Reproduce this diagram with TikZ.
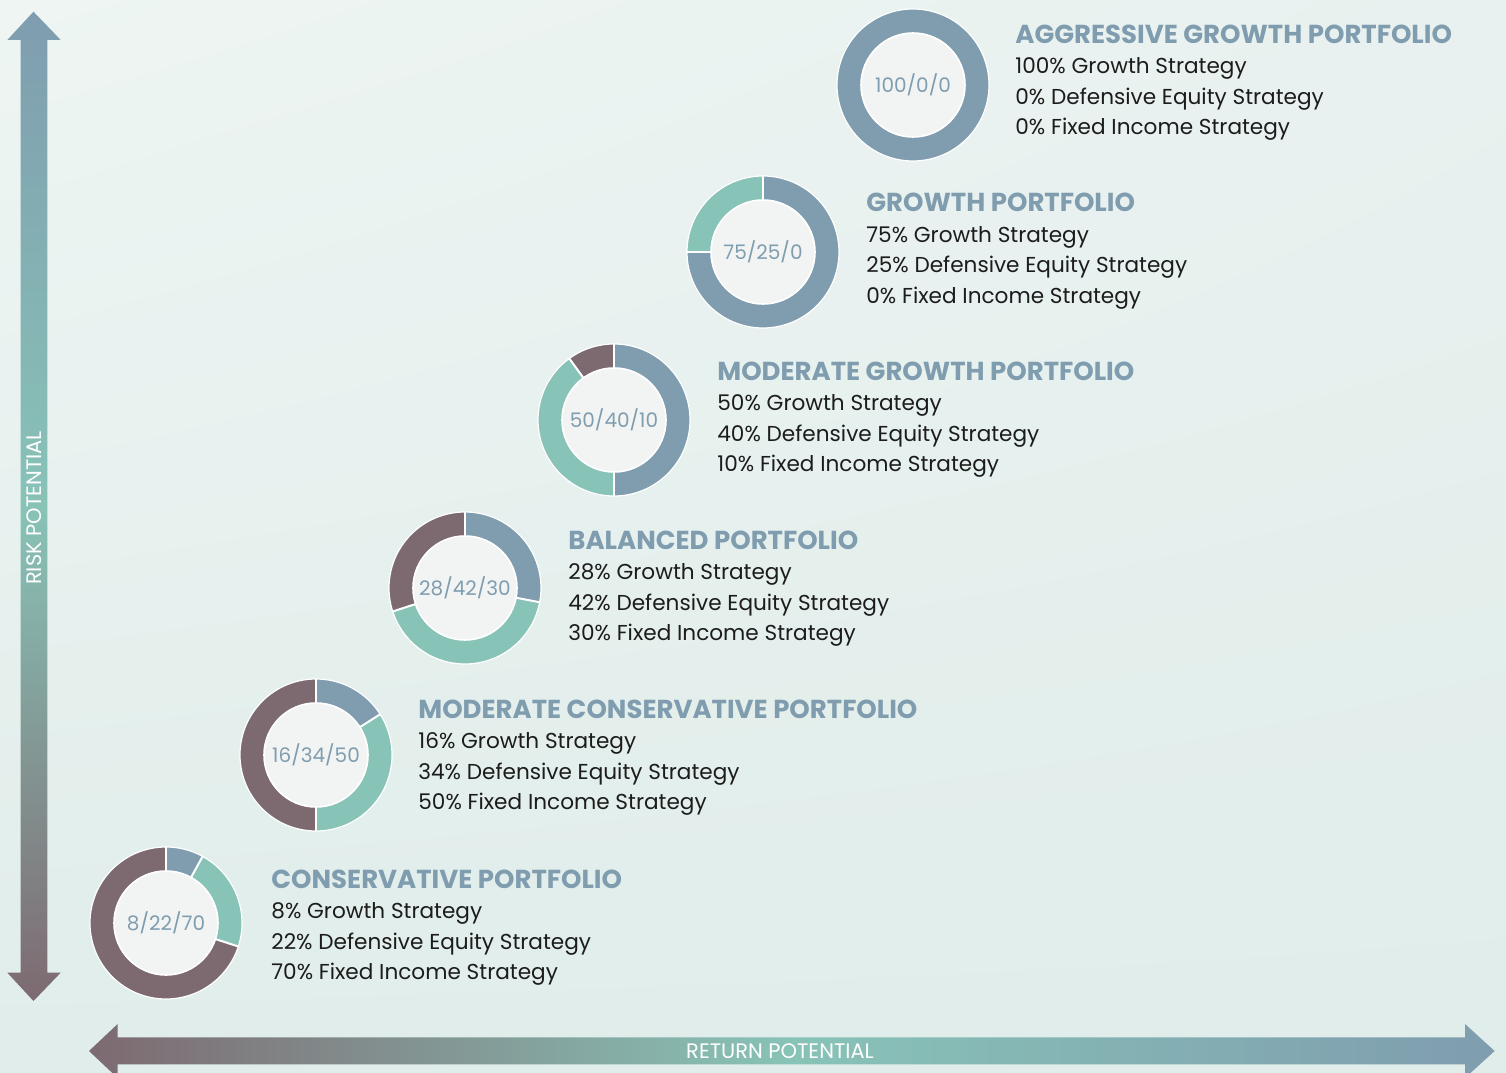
\documentclass[tikz,border=0pt]{standalone}
\usepackage{fontspec}
\setmainfont{Poppins}
\usetikzlibrary{shadings}

\definecolor{riskblue}{HTML}{7F9DAF}
\definecolor{riskteal}{HTML}{88C3B7}
\definecolor{riskmauve}{HTML}{7D6A71}
\definecolor{innerfill}{HTML}{F2F4F3}
\definecolor{bodytext}{HTML}{1C1C1C}
\definecolor{bgtopleft}{HTML}{EEF5F3}
\definecolor{bgtopright}{HTML}{E8F1EF}
\definecolor{bgbottom}{HTML}{E0EDEA}

\tikzset{
  pctlabel/.style={font=\fontsize{10}{12}\selectfont, text=riskblue, inner sep=0pt},
  titlelabel/.style={font=\fontsize{13}{15}\selectfont\bfseries, text=riskblue, anchor=base west, inner sep=0pt},
  linelabel/.style={font=\fontsize{10.8}{12}\selectfont, text=bodytext, anchor=base west, inner sep=0pt},
  axislabel/.style={font=\fontsize{10.5}{12}\selectfont, text=white, inner sep=0pt},
  gap/.style={white, line width=1pt}
}

\begin{document}
\begin{tikzpicture}[x=0.5pt, y=0.5pt]
\useasboundingbox (0,0) rectangle (1506,1072);
\shade[upper left=bgtopleft, upper right=bgtopright, lower left=bgbottom, lower right=bgbottom] (0,0) rectangle (1506,1072);

% risk axis
\shade[top color=riskblue, bottom color=riskmauve, middle color=riskteal] (33.5,1060.3) -- (60.7,1032) -- (47.3,1032) -- (47.3,99.3) -- (60.7,99.3) -- (33.5,71) -- (7.3,99.3) -- (20.7,99.3) -- (20.7,1032) -- (7.3,1032) -- cycle;
\node[axislabel, rotate=90] (risk) at (34,564) {RISK POTENTIAL};

% return axis
\shade[left color=riskmauve, right color=riskblue, middle color=riskteal] (89,21) -- (117.7,48) -- (117.7,34.7) -- (1465,34.7) -- (1465,48) -- (1494.6,21) -- (1465,-6) -- (1465,7.7) -- (117.7,7.7) -- (117.7,-6) -- cycle;
\node[axislabel] (return) at (780,21) {RETURN POTENTIAL};

% portfolios
\foreach \cx/\cy/\tx/\ty/\g/\d/\f/\name [count=\i] in {
  913/987/1015/1028.7/100/0/0/AGGRESSIVE GROWTH PORTFOLIO,
  763/820/866/860.2/75/25/0/GROWTH PORTFOLIO,
  614/652/717/691.7/50/40/10/MODERATE GROWTH PORTFOLIO,
  465/484/568/522.7/28/42/30/BALANCED PORTFOLIO,
  316/317/418/353.7/16/34/50/MODERATE CONSERVATIVE PORTFOLIO,
  166/149/271/183.7/8/22/70/CONSERVATIVE PORTFOLIO}
{
  \pgfmathsetmacro\aone{90-3.6*\g}
  \pgfmathsetmacro\atwo{\aone-3.6*\d}
  \fill[riskblue] (\cx,\cy) ++(90:76) arc[start angle=90, end angle=\aone, radius=76] -- ++(\aone:-24) arc[start angle=\aone, end angle=90, radius=52] -- cycle;
  \fill[riskteal] (\cx,\cy) ++(\aone:76) arc[start angle=\aone, end angle=\atwo, radius=76] -- ++(\atwo:-24) arc[start angle=\atwo, end angle=\aone, radius=52] -- cycle;
  \fill[riskmauve] (\cx,\cy) ++(\atwo:76) arc[start angle=\atwo, end angle=-270, radius=76] -- ++(-270:-24) arc[start angle=-270, end angle=\atwo, radius=52] -- cycle;
  \ifnum\g<100
    \foreach \a in {90,\aone,\atwo}
      \draw[gap] (\cx,\cy) ++(\a:52) -- ++(\a:24);
  \fi
  \draw[white, line width=0.6pt] (\cx,\cy) circle[radius=76];
  \draw[white, line width=0.8pt, fill=innerfill] (\cx,\cy) circle[radius=52];
  \node[pctlabel] (pie\i) at (\cx,\cy) {\g/\d/\f};
  \node[titlelabel] (title\i) at (\tx,\ty) {\name};
  \node[linelabel] (growth\i) at (\tx,\ty-30.5) {\g\% Growth Strategy};
  \node[linelabel] (defensive\i) at (\tx,\ty-61) {\d\% Defensive Equity Strategy};
  \node[linelabel] (fixed\i) at (\tx,\ty-91.5) {\f\% Fixed Income Strategy};
}
\end{tikzpicture}
\end{document}
